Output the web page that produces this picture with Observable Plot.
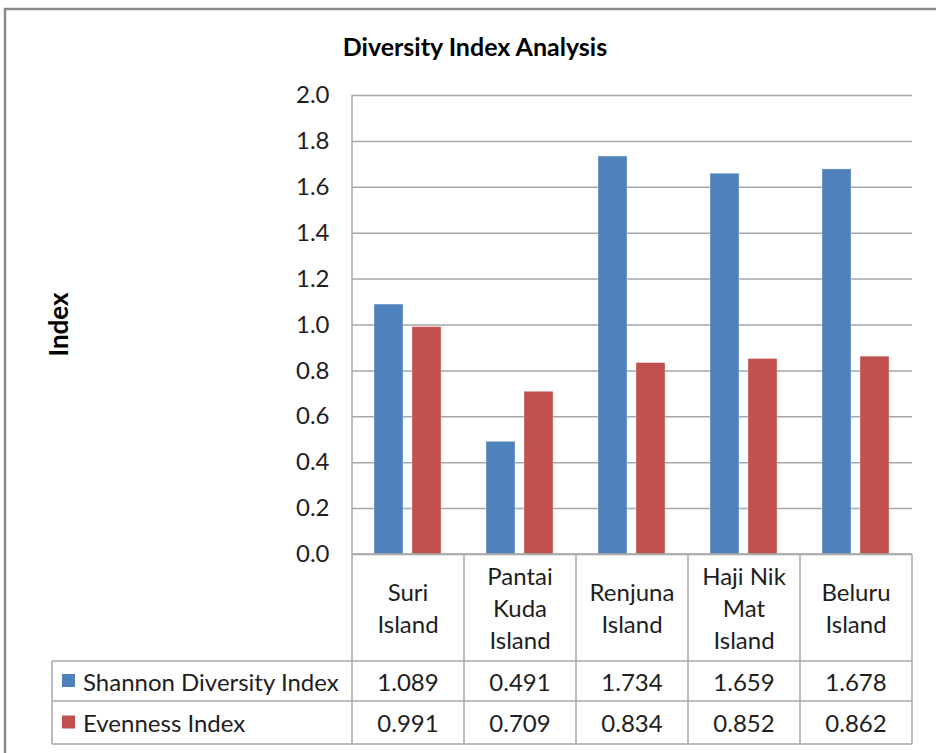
<!DOCTYPE html>
<html><head><meta charset="utf-8">
<script src="https://cdn.jsdelivr.net/npm/d3@7"></script>
<script src="https://cdn.jsdelivr.net/npm/@observablehq/plot@0.6"></script>
<style>body{margin:0;background:#fff;}</style>
</head><body><div id="chart"></div>
<script>
const categories = ["Suri Island", "Pantai Kuda Island", "Renjuna Island", "Haji Nik Mat Island", "Beluru Island"];
const categoryLines = [["Suri", "Island"], ["Pantai", "Kuda", "Island"], ["Renjuna", "Island"], ["Haji Nik", "Mat", "Island"], ["Beluru", "Island"]];
const series = ["Shannon Diversity Index", "Evenness Index"];
const shannon = [1.089, 0.491, 1.734, 1.659, 1.678];
const evenness = [0.991, 0.709, 0.834, 0.852, 0.862];
const seriesColors = ["#4F81BD", "#C0504D"];
const yTicks = [0.0, 0.2, 0.4, 0.6, 0.8, 1.0, 1.2, 1.4, 1.6, 1.8, 2.0];
const title = "Diversity Index Analysis";
const yLabel = "Index";

const valuesBySeries = [shannon, evenness];
const data = categories.flatMap((c, i) => series.map((s, j) => ({category: c, series: s, value: valuesBySeries[j][i]})));

const FONT = "Lato, 'Open Sans', sans-serif";
const FS = 24;
const TEXT = "#1e1e1e";
const GRID = "#a6a6a6";

const plot = Plot.plot({
  width: 936, height: 753,
  marginLeft: 350, marginRight: 23, marginTop: 95, marginBottom: 199,
  style: {fontFamily: FONT, fontSize: FS + "px", color: TEXT, background: "white", overflow: "visible"},
  fx: {domain: categories, padding: 0, axis: null},
  x: {domain: series, paddingInner: 0.23, paddingOuter: 0.56, axis: null},
  y: {domain: [0, 2], axis: null},
  color: {domain: series, range: seriesColors},
  marks: [
    Plot.gridY(yTicks, {stroke: GRID, strokeOpacity: 1, strokeWidth: 1.5}),
    Plot.barY(data, {fx: "category", x: "series", y: "value", fill: "series", stroke: "white", strokeOpacity: 0.35, strokeWidth: 1}),
    Plot.axisY(yTicks, {tickSize: 0, tickPadding: 23, tickFormat: d3.format(".1f"), fontSize: FS, fill: TEXT, label: null})
  ]
});
document.getElementById("chart").appendChild(plot);

// Data table, legend, title and frame drawn with the plot's own scales
const svg = d3.select(plot);
const fx = plot.scale("fx");
const y = plot.scale("y");
const bw = fx.bandwidth;
const cols = categories.map(c => fx.apply(c));
const left = cols[0], right = cols[cols.length - 1] + bw;
const y0 = y.apply(0), yTop = y.apply(2);
const rowCat = y0 + 107, row1 = rowCat + 40, row2 = row1 + 43;
const tableLeft = 52;

const g = svg.append("g").attr("stroke", GRID).attr("stroke-width", 1.5).attr("fill", "none");
g.append("line").attr("x1", left).attr("x2", left).attr("y1", yTop).attr("y2", row2);
cols.slice(1).concat([right]).forEach(cx => g.append("line").attr("x1", cx).attr("x2", cx).attr("y1", y0).attr("y2", row2));
g.append("line").attr("x1", left).attr("x2", right).attr("y1", y0).attr("y2", y0);
[rowCat, row1, row2].forEach(ry => g.append("line").attr("x1", tableLeft).attr("x2", right).attr("y1", ry).attr("y2", ry));
g.append("line").attr("x1", tableLeft).attr("x2", tableLeft).attr("y1", rowCat).attr("y2", row2);

const t = svg.append("g").attr("font-family", FONT).attr("font-size", FS).attr("fill", TEXT);
categories.forEach((c, i) => {
  const lines = categoryLines[i];
  const cy = (y0 + rowCat) / 2;
  const lh = 32;
  lines.forEach((ln, k) => {
    t.append("text").attr("x", cols[i] + bw / 2).attr("y", cy + (k - (lines.length - 1) / 2) * lh)
      .attr("text-anchor", "middle").attr("dominant-baseline", "central").text(ln);
  });
});
const rowsMid = [(rowCat + row1) / 2, (row1 + row2) / 2];
series.forEach((s, j) => {
  valuesBySeries[j].forEach((v, i) => {
    t.append("text").attr("x", cols[i] + bw / 2).attr("y", rowsMid[j])
      .attr("text-anchor", "middle").attr("dominant-baseline", "central").text(d3.format(".3f")(v));
  });
  svg.append("rect").attr("x", 62).attr("y", rowsMid[j] - 7).attr("width", 13).attr("height", 13).attr("fill", seriesColors[j]);
  t.append("text").attr("x", 83).attr("y", rowsMid[j]).attr("text-anchor", "start").attr("dominant-baseline", "central").text(s);
});
svg.append("text").attr("x", 475).attr("y", 46).attr("text-anchor", "middle").attr("dominant-baseline", "central")
  .attr("font-family", FONT).attr("font-size", 25).attr("font-weight", "bold").attr("fill", "#000").text(title);
svg.append("text").attr("transform", `translate(58,${(yTop + y0) / 2}) rotate(-90)`).attr("text-anchor", "middle").attr("dominant-baseline", "central")
  .attr("font-family", FONT).attr("font-size", 26).attr("font-weight", "bold").attr("fill", "#000").text(yLabel);
svg.append("path").attr("d", "M5,753V9H936").attr("fill", "none").attr("stroke", "#8a8a8a").attr("stroke-width", 2.5);
</script>
</body></html>
